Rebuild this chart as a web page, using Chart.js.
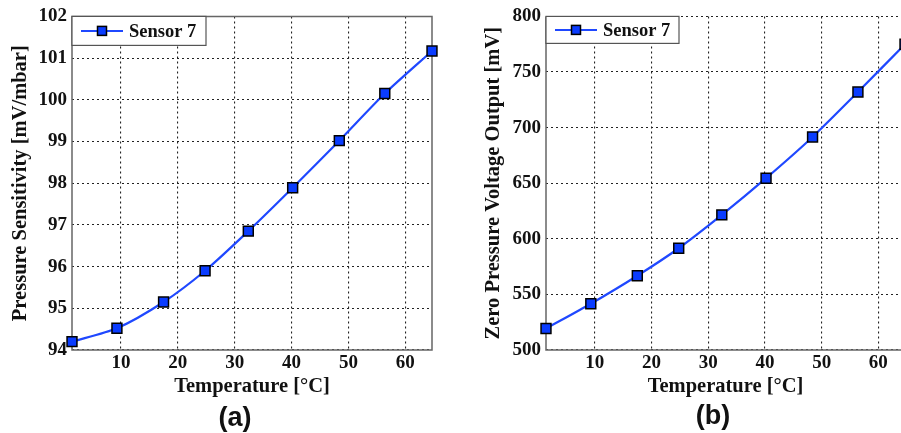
<!DOCTYPE html>
<html>
<head>
<meta charset="utf-8">
<script src="https://cdn.jsdelivr.net/npm/chart.js@4/dist/chart.umd.min.js"></script>
<style>
  html, body { margin:0; padding:0; background:#fff; overflow:hidden; width:901px; height:433px; }
  .wrap { position:absolute; top:0; height:433px; }
  .cap { position:absolute; font-family:"Liberation Sans", Arial, sans-serif; font-weight:bold; font-size:27px; color:#111; transform:translate(-50%,-50%); white-space:nowrap; }
</style>
</head>
<body>
<div class="wrap" style="left:0;width:450px;"><canvas id="ca" width="450" height="433"></canvas></div>
<div class="wrap" style="left:450px;width:470px;"><canvas id="cb" width="470" height="433"></canvas></div>
<div class="cap" style="left:235px;top:417px;">(a)</div>
<div class="cap" style="left:713px;top:415px;">(b)</div>
<script>
// ---- data ----
const temperatures = [1.4, 9.3, 17.5, 24.8, 32.4, 40.2, 48.4, 56.4, 64.7];
const sensitivity  = [94.2, 94.52, 95.15, 95.9, 96.85, 97.89, 99.02, 100.15, 101.17];
const zeroOutput   = [519.3, 541.6, 566.8, 591.5, 621.5, 654.5, 691.6, 732, 775];
const xTicks  = [10, 20, 30, 40, 50, 60];
const yTicksA = [94, 95, 96, 97, 98, 99, 100, 101, 102];
const yTicksB = [500, 550, 600, 650, 700, 750, 800];
const seriesLabel = 'Sensor 7';
const xTitle  = 'Temperature [°C]';
const yTitleA = 'Pressure Sensitivity [mV/mbar]';
const yTitleB = 'Zero Pressure Voltage Output [mV]';

const SERIF = '"Liberation Serif", "Times New Roman", serif';
const LINE_COLOR = '#1f48ff';
const MARK_COLOR = '#0a3cff';
const TICK_FONT = { family: SERIF, size: 19, weight: 'bold' };
const TITLE_FONT = { family: SERIF, size: 20.5, weight: 'bold' };

function framePlugin(fullBox) {
  return {
    id: 'frame',
    beforeDatasetsDraw(chart) {
      const {ctx, chartArea: a} = chart;
      ctx.save();
      ctx.strokeStyle = '#666';
      ctx.lineWidth = 1.5;
      ctx.setLineDash([]);
      ctx.beginPath();
      if (fullBox) {
        ctx.rect(a.left, a.top, a.right - a.left, a.bottom - a.top);
      } else {
        ctx.moveTo(a.left, a.top);
        ctx.lineTo(a.left, a.bottom);
        ctx.lineTo(a.right + 20, a.bottom);
      }
      ctx.stroke();
      ctx.restore();
    }
  };
}

function legendPlugin(w, h) {
  return {
    id: 'boxLegend',
    afterDatasetsDraw(chart) {
      const {ctx, chartArea: a} = chart;
      const ds = chart.data.datasets[0];
      const x = a.left, y = a.top;
      ctx.save();
      ctx.fillStyle = '#fff';
      ctx.fillRect(x, y, w, h);
      ctx.strokeStyle = '#555';
      ctx.lineWidth = 1.2;
      ctx.strokeRect(x, y, w, h);
      const my = y + h / 2;
      ctx.strokeStyle = LINE_COLOR;
      ctx.lineWidth = 2;
      ctx.beginPath();
      ctx.moveTo(x + 9, my);
      ctx.lineTo(x + 51, my);
      ctx.stroke();
      ctx.fillStyle = MARK_COLOR;
      ctx.strokeStyle = '#000';
      ctx.lineWidth = 1.5;
      ctx.fillRect(x + 25.5, my - 4.5, 9, 9);
      ctx.strokeRect(x + 25.5, my - 4.5, 9, 9);
      ctx.fillStyle = '#111';
      ctx.font = 'bold 18.5px ' + SERIF;
      ctx.textBaseline = 'middle';
      ctx.textAlign = 'left';
      ctx.fillText(ds.label, x + 57, my + 1);
      ctx.restore();
    }
  };
}

function makeChart(id, values, yTicks, yTitle, opts) {
  const data = temperatures.map((t, i) => ({x: t, y: values[i]}));
  return new Chart(document.getElementById(id), {
    type: 'line',
    data: {
      datasets: [{
        label: seriesLabel,
        data: data,
        borderColor: LINE_COLOR,
        borderWidth: 2.2,
        backgroundColor: MARK_COLOR,
        pointStyle: 'rect',
        pointRadius: 7,
        pointBorderColor: '#000',
        pointBorderWidth: 1.5,
        pointBackgroundColor: MARK_COLOR,
        tension: 0.25,
        clip: false
      }]
    },
    options: {
      responsive: false,
      animation: false,
      events: [],
      layout: { padding: { left: 0, top: opts.top, right: opts.right, bottom: 0 } },
      plugins: { legend: { display: false }, tooltip: { enabled: false } },
      scales: {
        x: {
          type: 'linear',
          min: temperatures[0],
          max: temperatures[temperatures.length - 1],
          afterBuildTicks(s) { s.ticks = xTicks.map(v => ({value: v})); },
          afterFit(s) { s.height = 83; },
          grid: { color: '#222', lineWidth: 1.1, drawTicks: false },
          border: { display: false, dash: [2, 3] },
          ticks: { color: '#111', padding: 2, maxRotation: 0, font: TICK_FONT },
          title: { display: true, text: xTitle, color: '#111', padding: { top: 0, bottom: 34 }, font: TITLE_FONT }
        },
        y: {
          type: 'linear',
          min: yTicks[0],
          max: yTicks[yTicks.length - 1],
          afterBuildTicks(s) { s.ticks = yTicks.map(v => ({value: v})); },
          afterFit(s) { s.width = opts.yWidth; },
          grid: { color: '#222', lineWidth: 1.1, drawTicks: false },
          border: { display: false, dash: [2, 3] },
          ticks: { color: '#111', padding: 5, font: TICK_FONT },
          title: { display: true, text: yTitle, color: '#111', padding: { top: opts.titlePad, bottom: 0 }, font: TITLE_FONT }
        }
      }
    },
    plugins: [framePlugin(opts.fullBox), legendPlugin(opts.legW, opts.legH)]
  });
}

makeChart('ca', sensitivity, yTicksA, yTitleA,
  { top: 14, right: 18, yWidth: 72, titlePad: 8, fullBox: true, legW: 134, legH: 29 });
makeChart('cb', zeroOutput, yTicksB, yTitleB,
  { top: 13, right: 15, yWidth: 96, titlePad: 31, fullBox: false, legW: 133, legH: 27 });
</script>
</body>
</html>
